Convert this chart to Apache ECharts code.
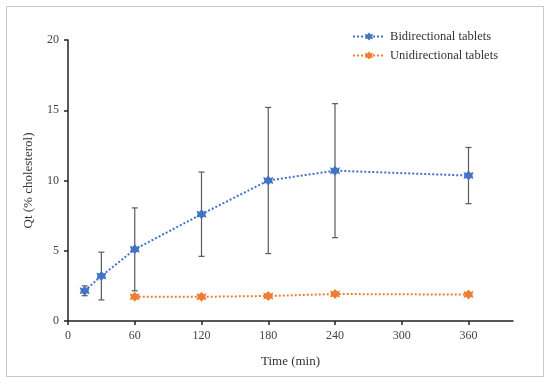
<!DOCTYPE html>
<html>
<head>
<meta charset="utf-8">
<script src="https://cdn.jsdelivr.net/npm/echarts@6/dist/echarts.min.js"></script>
<style>
html,body{margin:0;padding:0;background:#fff;}
#frame{position:absolute;left:6px;top:6px;width:538px;height:371px;border:1.5px solid #c8c8c8;box-sizing:border-box;}
#chart{position:absolute;left:0;top:0;width:550px;height:388px;}
</style>
</head>
<body>
<div id="frame"></div>
<div id="chart"></div>
<script>
const times = [15, 30, 60, 120, 180, 240, 360];
const bidiMean = [2.15, 3.2, 5.1, 7.6, 10.0, 10.7, 10.35];
const bidiSD = [0.35, 1.7, 2.95, 3.0, 5.2, 4.77, 2.0];
const uniTimes = [60, 120, 180, 240, 360];
const uniMean = [1.72, 1.72, 1.78, 1.92, 1.88];
const uniSD = [0.1, 0.1, 0.1, 0.1, 0.1];
const xTicks = [0, 60, 120, 180, 240, 300, 360];
const yTicks = [0, 5, 10, 15, 20];

const star = 'path://M0,-10 L4,-5 L9,-7 L7,0 L9,7 L4,5 L0,10 L-4,5 L-9,7 L-7,0 L-9,-7 L-4,-5 Z';
const blue = '#4472C4', orange = '#ED7D31';
const font = '"Liberation Serif", "Times New Roman", serif';

function errData(ts, m, sd) {
  return ts.map((t, i) => [t, m[i] - sd[i], m[i] + sd[i]]);
}
function renderErr(params, api) {
  const x = api.value(0);
  const lo = api.coord([x, api.value(1)]);
  const hi = api.coord([x, api.value(2)]);
  const w = 3;
  const st = { stroke: '#5a5a5a', lineWidth: 1.2 };
  return {
    type: 'group',
    children: [
      { type: 'line', shape: { x1: lo[0], y1: lo[1], x2: hi[0], y2: hi[1] }, style: st },
      { type: 'line', shape: { x1: lo[0] - w, y1: lo[1], x2: lo[0] + w, y2: lo[1] }, style: st },
      { type: 'line', shape: { x1: hi[0] - w, y1: hi[1], x2: hi[0] + w, y2: hi[1] }, style: st }
    ]
  };
}

const chart = echarts.init(document.getElementById('chart'), null, { renderer: 'canvas' });
chart.setOption({
  animation: false,
  textStyle: { fontFamily: font },
  grid: { left: 68, right: 37, top: 40, bottom: 67 },
  legend: {
    right: 47, top: 25, orient: 'vertical', itemGap: 6, itemWidth: 32, itemHeight: 10,
    textStyle: { fontFamily: font, fontSize: 12.5, color: '#333' },
    data: ['Bidirectional tablets', 'Unidirectional tablets']
  },
  xAxis: {
    type: 'value', min: 0, max: 400, interval: 60,
    name: 'Time (min)', nameLocation: 'middle', nameGap: 34,
    nameTextStyle: { fontFamily: font, fontSize: 13, color: '#333' },
    axisLine: { lineStyle: { color: '#222', width: 1.5 } },
    axisTick: { show: true, length: 4, lineStyle: { color: '#222', width: 1.5 } },
    axisLabel: { showMaxLabel: false, fontFamily: font, fontSize: 12, color: '#444', margin: 9,
      formatter: v => xTicks.includes(v) ? String(v) : '' },
    splitLine: { show: false }
  },
  yAxis: {
    type: 'value', min: 0, max: 20, interval: 5,
    name: 'Qt (% cholesterol)', nameLocation: 'middle', nameGap: 33, nameRotate: 90,
    nameTextStyle: { fontFamily: font, fontSize: 13, color: '#333' },
    axisLine: { show: true, lineStyle: { color: '#222', width: 1.5 } },
    axisTick: { show: true, length: 4, lineStyle: { color: '#222', width: 1.5 } },
    axisLabel: { fontFamily: font, fontSize: 12, color: '#444', margin: 9,
      formatter: v => yTicks.includes(v) ? String(v) : '' },
    splitLine: { show: false }
  },
  series: [
    {
      name: 'Bidirectional tablets', type: 'line',
      data: times.map((t, i) => [t, bidiMean[i]]),
      symbol: star, symbolSize: 10,
      itemStyle: { color: blue },
      lineStyle: { color: blue, width: 2, type: [2, 2] },
      z: 3
    },
    {
      name: 'Unidirectional tablets', type: 'line',
      data: uniTimes.map((t, i) => [t, uniMean[i]]),
      symbol: star, symbolSize: 10,
      itemStyle: { color: orange },
      lineStyle: { color: orange, width: 2, type: [2, 2] },
      z: 3
    },
    {
      type: 'custom', renderItem: renderErr, data: errData(times, bidiMean, bidiSD),
      encode: { x: 0, y: [1, 2] }, z: 2, silent: true
    },
    {
      type: 'custom', renderItem: renderErr, data: errData(uniTimes, uniMean, uniSD),
      encode: { x: 0, y: [1, 2] }, z: 2, silent: true
    }
  ]
});
</script>
</body>
</html>
